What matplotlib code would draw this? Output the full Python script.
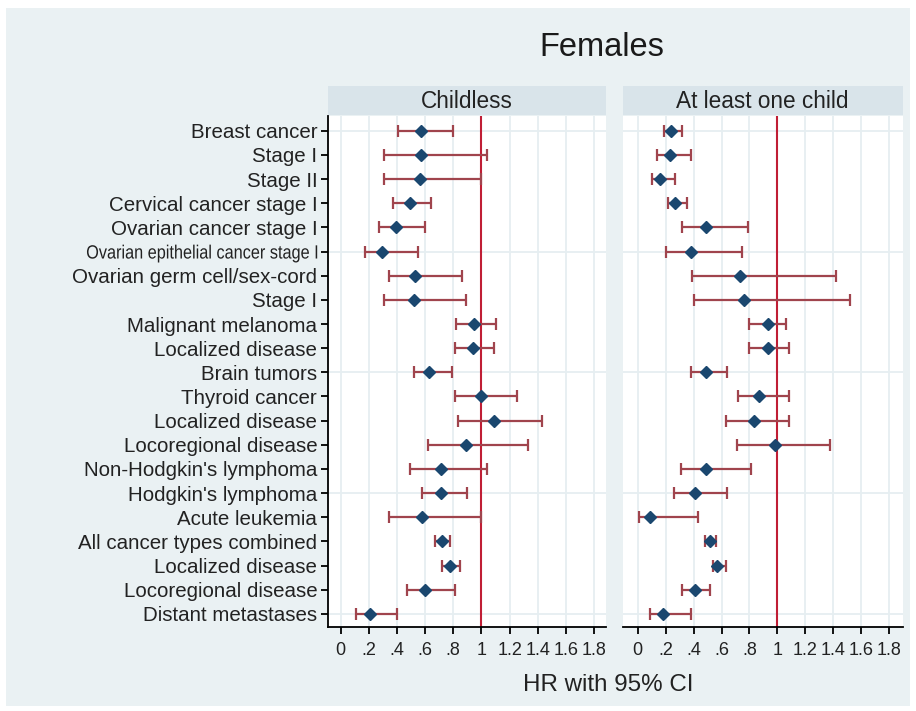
import matplotlib
matplotlib.use("Agg")
import matplotlib.pyplot as plt
from matplotlib.patches import Rectangle, PathPatch
from matplotlib.textpath import TextPath
from matplotlib.font_manager import FontProperties
from matplotlib.transforms import Affine2D, IdentityTransform

# Row labels, top to bottom
labels = [
    "Breast cancer", "Stage I", "Stage II", "Cervical cancer stage I",
    "Ovarian cancer stage I", "Ovarian epithelial cancer stage I",
    "Ovarian germ cell/sex-cord", "Stage I", "Malignant melanoma",
    "Localized disease", "Brain tumors", "Thyroid cancer", "Localized disease",
    "Locoregional disease", "Non-Hodgkin's lymphoma", "Hodgkin's lymphoma",
    "Acute leukemia", "All cancer types combined", "Localized disease",
    "Locoregional disease", "Distant metastases",
]

# Childless: hazard ratio and 95% CI
hr_childless = [0.57, 0.57, 0.56, 0.49, 0.39, 0.29, 0.53, 0.52, 0.95, 0.94, 0.63,
                1.00, 1.09, 0.89, 0.71, 0.71, 0.58, 0.72, 0.78, 0.60, 0.21]
lo_childless = [0.41, 0.31, 0.31, 0.37, 0.27, 0.17, 0.34, 0.31, 0.82, 0.81, 0.52,
                0.81, 0.83, 0.62, 0.49, 0.58, 0.34, 0.67, 0.72, 0.47, 0.11]
hi_childless = [0.80, 1.04, 1.00, 0.64, 0.60, 0.55, 0.86, 0.89, 1.10, 1.09, 0.79,
                1.25, 1.43, 1.33, 1.04, 0.90, 1.00, 0.78, 0.85, 0.81, 0.40]

# At least one child: hazard ratio and 95% CI
hr_parents = [0.24, 0.23, 0.16, 0.27, 0.49, 0.38, 0.73, 0.76, 0.93, 0.93, 0.49,
              0.87, 0.83, 0.98, 0.49, 0.41, 0.09, 0.52, 0.57, 0.41, 0.18]
lo_parents = [0.19, 0.14, 0.10, 0.22, 0.32, 0.20, 0.39, 0.40, 0.80, 0.80, 0.38,
              0.72, 0.63, 0.71, 0.31, 0.26, 0.01, 0.48, 0.54, 0.32, 0.09]
hi_parents = [0.32, 0.38, 0.27, 0.35, 0.79, 0.75, 1.42, 1.52, 1.06, 1.08, 0.64,
              1.08, 1.08, 1.38, 0.81, 0.64, 0.43, 0.56, 0.63, 0.52, 0.38]

panel_titles = ["Childless", "At least one child"]
xticks = [0, 0.2, 0.4, 0.6, 0.8, 1.0, 1.2, 1.4, 1.6, 1.8]
xtick_labels = ["0", ".2", ".4", ".6", ".8", "1", "1.2", "1.4", "1.6", "1.8"]

BG = "#EAF1F3"
STRIP = "#D9E4EA"
GRID = "#E6EEF1"
NAVY = "#1A476F"
MAROON = "#A0444D"
REFLINE = "#C01E35"
TEXT = "#222222"
YLAB_SIZE = 14.8
LONG_LABEL_SIZE = 13.8
LONG_LABEL_WIDTH = 231  # px, the long label is squeezed to this width

plt.rcParams["font.family"] = ["Liberation Sans", "DejaVu Sans"]

W, H = 916, 711
fig = plt.figure(figsize=(W / 100, H / 100), dpi=100)
fig.patch.set_facecolor("white")
fig.patches.append(Rectangle((6 / W, 1 - 706 / H), 904 / W, 698 / H,
                             transform=fig.transFigure, facecolor=BG,
                             edgecolor="none", zorder=-10))


def px_axes(x0, y0, x1, y1):
    return fig.add_axes([x0 / W, 1 - y1 / H, (x1 - x0) / W, (y1 - y0) / H])


panels = [
    (328.3, 605.7, (-0.088, 1.883), hr_childless, lo_childless, hi_childless),
    (623.3, 902.7, (-0.103, 1.897), hr_parents, lo_parents, hi_parents),
]
rows = list(range(1, len(labels) + 1))
axes = []

for i, (x0, x1, xlim, hr, lo, hi) in enumerate(panels):
    ax = px_axes(x0, 116, x1, 626.7)
    axes.append(ax)
    ax.set_facecolor("white")
    ax.set_xlim(*xlim)
    ax.set_ylim(21.53, 0.39)

    # grid
    for t in xticks:
        ax.axvline(t, color=GRID, lw=1.3, zorder=0)
    for r in [1, 6, 11, 16, 21]:
        ax.axhline(r, color=GRID, lw=1.3, zorder=0)

    ax.axvline(1.0, color=REFLINE, lw=1.5, zorder=2)

    err = [[h - l for h, l in zip(hr, lo)], [u - h for h, u in zip(hr, hi)]]
    ax.errorbar(hr, rows, xerr=err, fmt="none", ecolor=MAROON, elinewidth=1.6,
                capsize=4.5, capthick=1.6, zorder=3)
    ax.plot(hr, rows, "D", color=NAVY, markersize=6.3, zorder=4)

    ax.set_xticks(xticks)
    ax.set_xticklabels(xtick_labels, fontsize=13, color=TEXT)
    ax.tick_params(axis="x", length=5, width=1.3, color="black", pad=6)

    for s in ["top", "right"]:
        ax.spines[s].set_visible(False)
    ax.spines["bottom"].set_linewidth(1.3)
    if i == 0:
        ax.set_yticks(rows)
        ax.set_yticklabels(labels, fontsize=YLAB_SIZE, color=TEXT)
        ax.tick_params(axis="y", length=5, width=1.3, color="black", pad=3)
        ax.spines["left"].set_linewidth(1.3)
    else:
        ax.set_yticks([])
        ax.spines["left"].set_visible(False)

    # panel strip
    sx = px_axes(x0 - 0.5, 86, x1, 115)
    sx.set_facecolor(STRIP)
    sx.set_xticks([])
    sx.set_yticks([])
    for s in sx.spines.values():
        s.set_visible(False)
    sx.text(0.5, 0.47, panel_titles[i], ha="center", va="center",
            fontsize=16.3, color=TEXT, transform=sx.transAxes)

fig.text(602 / W, 1 - 48 / H, "Females", ha="center", va="center",
         fontsize=23.5, color="#1a1a1a")
fig.text(608 / W, 1 - 685 / H, "HR with 95% CI", ha="center", va="center",
         fontsize=17.4, color=TEXT)

# Squeeze the longest y label horizontally: measure where it sits,
# blank it and redraw it as a narrowed text path at the same spot.
fig.canvas.draw()
renderer = fig.canvas.get_renderer()
ax0 = axes[0]
long_idx = labels.index("Ovarian epithelial cancer stage I")
long_lab = ax0.get_yticklabels()[long_idx]
bb = long_lab.get_window_extent(renderer)
fp_full = FontProperties(family="Liberation Sans", size=YLAB_SIZE)
_, _, descent = renderer.get_text_width_height_descent(labels[long_idx], fp_full, ismath=False)
fp = FontProperties(family="Liberation Sans", size=LONG_LABEL_SIZE)
tp = TextPath((0, 0), labels[long_idx], prop=fp)
ext = tp.get_extents()
pt2px = fig.dpi / 72.0
sx_scale = LONG_LABEL_WIDTH / (ext.x1 * pt2px)
# keep the glyphs centred on the row like the other labels
shift = (YLAB_SIZE - LONG_LABEL_SIZE) * pt2px * 0.36
trans = (Affine2D().scale(sx_scale * pt2px, pt2px)
         .translate(bb.x1 - LONG_LABEL_WIDTH, bb.y0 + descent + shift))
fig.patches.append(PathPatch(trans.transform_path(tp), transform=IdentityTransform(),
                             facecolor=TEXT, edgecolor="none", lw=0, zorder=5))
shown = list(labels)
shown[long_idx] = ""
ax0.set_yticklabels(shown, fontsize=YLAB_SIZE, color=TEXT)

fig.savefig("out.png", dpi=100)
